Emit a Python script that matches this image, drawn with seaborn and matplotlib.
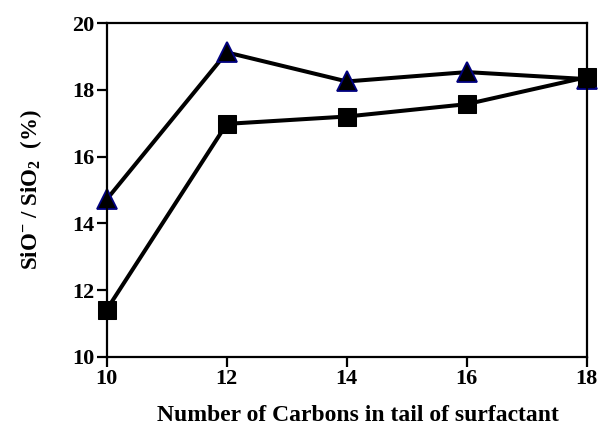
import matplotlib
matplotlib.use("Agg")
import matplotlib.pyplot as plt
import seaborn as sns
import pandas as pd

carbons = [10, 12, 14, 16, 18]
tri_vals = [14.72, 19.12, 18.25, 18.53, 18.32]
sq_vals = [11.42, 16.98, 17.2, 17.57, 18.38]
x_ticks = [10, 12, 14, 16, 18]
y_ticks = [10, 12, 14, 16, 18, 20]

sns.set_theme(style="white")
plt.rcParams['font.family'] = ['Liberation Serif', 'DejaVu Serif']
plt.rcParams['mathtext.fontset'] = 'custom'
plt.rcParams['mathtext.rm'] = 'Liberation Serif:bold'
plt.rcParams['mathtext.it'] = 'Liberation Serif:bold'
plt.rcParams['mathtext.bf'] = 'Liberation Serif:bold'
plt.rcParams['text.color'] = 'black'
plt.rcParams['axes.labelcolor'] = 'black'
plt.rcParams['xtick.color'] = 'black'
plt.rcParams['ytick.color'] = 'black'

fig = plt.figure(figsize=(6.1, 4.26), dpi=100)
ax = fig.add_axes([0.175, 0.162, 0.787, 0.784])

df_t = pd.DataFrame({"x": carbons, "y": tri_vals})
df_s = pd.DataFrame({"x": carbons, "y": sq_vals})

sns.lineplot(data=df_t, x="x", y="y", ax=ax, color="black", lw=2.9,
             marker="^", markersize=14, markerfacecolor="black",
             markeredgecolor="#000080", markeredgewidth=1.3, clip_on=False)
sns.lineplot(data=df_s, x="x", y="y", ax=ax, color="black", lw=2.9,
             marker="s", markersize=12.5, markerfacecolor="black",
             markeredgecolor="black", clip_on=False)

ax.set_xlim(10, 18)
ax.set_ylim(10, 20)
ax.set_xticks(x_ticks)
ax.set_yticks(y_ticks)
ax.set_xticklabels([str(v) for v in x_ticks], fontsize=16, fontweight="bold")
ax.set_yticklabels([str(v) for v in y_ticks], fontsize=16, fontweight="bold")
for s in ax.spines.values():
    s.set_color("black")
    s.set_linewidth(1.6)
ax.tick_params(axis="both", which="both", direction="out", length=7, width=1.6,
               colors="black", bottom=True, left=True, top=False, right=False, pad=2)
ax.set_xlabel("Number of Carbons in tail of surfactant", fontsize=17,
              fontweight="bold", color="black")
ax.xaxis.set_label_coords(0.523, -0.145)
ax.set_ylabel(r"SiO$^{-}$ / SiO$_{2}$  (%)", fontsize=16.5, fontweight="bold",
              labelpad=20, color="black")
ax.grid(False)

fig.savefig("out.png", dpi=100)
